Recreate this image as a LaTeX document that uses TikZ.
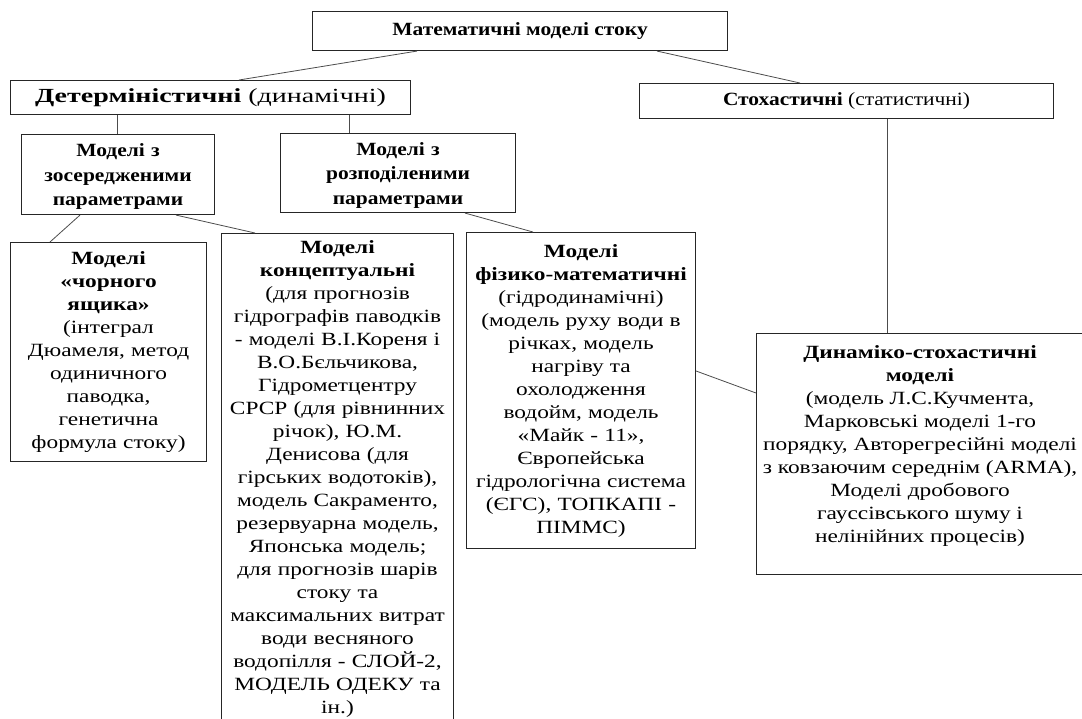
\documentclass[tikz,border=0pt]{standalone}
\usepackage{fontspec}
\setmainfont[FakeStretch=1.25]{Liberation Serif}
\newfontfamily\headfont[FakeStretch=1.15]{Liberation Serif}
\newfontfamily\widefont[FakeStretch=1.4]{Liberation Serif}

\begin{document}
\begin{tikzpicture}[
    x=0.75pt, y=-0.75pt,
    box/.style={rectangle, draw=black!85, line width=0.8pt, anchor=north west, inner sep=0pt, align=center, font=\fontsize{14}{17.25}\selectfont},
    headbox/.style={box, font=\headfont\bfseries\fontsize{14}{18.5}\selectfont},
    link/.style={draw=black!70, line width=0.6pt}
]
\useasboundingbox (0,0) rectangle (1082,718);

% top level
\node[box, minimum width=311.25pt, minimum height=29.25pt, font=\headfont\fontsize{14}{17}\selectfont] (models) at (312,11) {\textbf{Математичні моделі стоку}};
\node[box, minimum width=300pt, minimum height=25.5pt, font=\widefont\fontsize{15}{18}\selectfont] (determ) at (10,80) {\textbf{Детерміністичні} (динамічні)};
\node[box, minimum width=310.5pt, minimum height=26.25pt, font=\headfont\fontsize{14}{17}\selectfont] (stoch) at (639,83) {\textbf{Стохастичні} (статистичні)};

% second level
\node[headbox, minimum width=144.75pt, minimum height=60pt, text width=140pt] (lumped) at (21,134) {\rule{0pt}{13pt}Моделі з\\ зосередженими\\ параметрами};
\node[headbox, minimum width=176.25pt, minimum height=59.25pt, text width=170pt] (distrib) at (280,133) {\rule{0pt}{13pt}Моделі з\\ розподіленими\\ параметрами};

% third level
\node[box, minimum width=147pt, minimum height=164.25pt, text width=143pt] (blackbox) at (10,242) {\textbf{Моделі}\\ \textbf{«чорного}\\ \textbf{ящика»}\\ (інтеграл\\ Дюамеля, метод\\ одиничного\\ паводка,\\ генетична\\ формула стоку)};
\node[box, minimum width=174pt, minimum height=367.5pt, text width=172pt] (concept) at (221,233) {\textbf{Моделі}\\ \textbf{концептуальні}\\ (для прогнозів\\ гідрографів паводків\\ - моделі В.І.Кореня і\\ В.О.Бєльчикова,\\ Гідрометцентру\\ СРСР (для рівнинних\\ річок), Ю.М.\\ Денисова (для\\ гірських водотоків),\\ модель Сакраменто,\\ резервуарна модель,\\ Японська модель;\\ для прогнозів шарів\\ стоку та\\ максимальних витрат\\ води весняного\\ водопілля - СЛОЙ-2,\\ МОДЕЛЬ ОДЕКУ та\\ ін.)};
\node[box, minimum width=171.75pt, minimum height=237pt, text width=170pt] (phys) at (466,232) {\textbf{Моделі}\\ \textbf{фізико-математичні}\\ (гідродинамічні)\\ (модель руху води в\\ річках, модель\\ нагріву та\\ охолодження\\ водойм, модель\\ «Майк - 11»,\\ Європейська\\ гідрологічна система\\ (ЄГС), ТОПКАПІ -\\ ПІММС)};
\node[box] (dynamic) at (756,333) {\parbox[c][180.75pt][t]{245.25pt}{\centering\rule{0pt}{18.75pt}\textbf{Динаміко-стохастичні}\\ \textbf{моделі}\\ (модель Л.С.Кучмента,\\ Марковські моделі 1-го\\ порядку, Авторегресійні моделі\\ з ковзаючим середнім (ARMA),\\ Моделі дробового\\ гауссівського шуму і\\ нелінійних процесів)}};

% connectors
\draw[link] ([xshift=78.75pt]models.south west) -- ([xshift=171.75pt]determ.north west);
\draw[link] ([xshift=258.75pt]models.south west) -- ([xshift=120.75pt]stoch.north west);
\draw[link] ([xshift=80.25pt]determ.south west) -- ([xshift=72pt]lumped.north west);
\draw[link] ([xshift=254.25pt]determ.south west) -- ([xshift=51.75pt]distrib.north west);
\draw[link] ([xshift=44.25pt]lumped.south west) -- ([xshift=30pt]blackbox.north west);
\draw[link] ([xshift=116.25pt]lumped.south west) -- ([xshift=25.5pt]concept.north west);
\draw[link] ([xshift=138.75pt]distrib.south west) -- ([xshift=50.25pt]phys.north west);
\draw[link] ([xshift=186pt]stoch.south west) -- ([xshift=98.25pt]dynamic.north west);
\draw[link] ([yshift=-104.25pt]phys.north east) -- ([yshift=-45pt]dynamic.north west);
\end{tikzpicture}
\end{document}
